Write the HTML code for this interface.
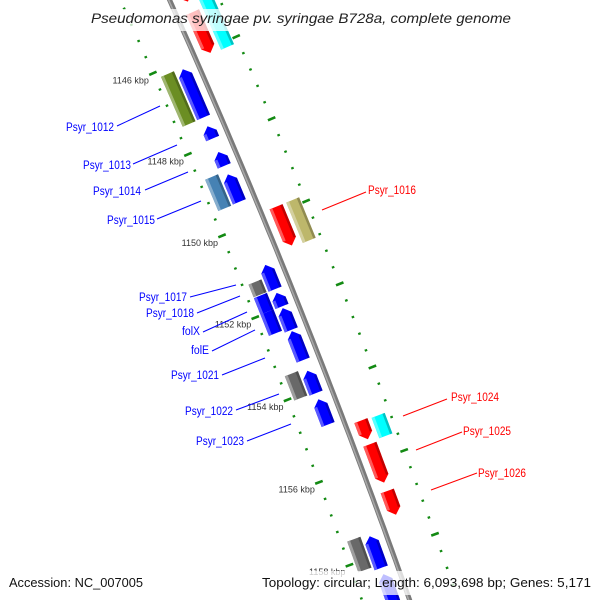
<!DOCTYPE html>
<html><head><meta charset="utf-8"><style>
html,body{margin:0;padding:0;background:#fff;width:600px;height:600px;overflow:hidden;}
svg{display:block;font-family:"Liberation Sans","DejaVu Sans",sans-serif;}
</style></head><body>
<svg id="map" width="600" height="600" viewBox="0 0 600 600" xmlns="http://www.w3.org/2000/svg">
<rect width="600" height="600" fill="#fff"/>
<g id="ticks"></g>
<g id="backbone"></g>
<g id="features"></g>
<g id="labels"></g>
<rect x="85" y="9" width="432" height="22" fill="#fff" opacity="0.75"/>
<text x="301" y="23" text-anchor="middle" font-size="14" font-style="italic" fill="#222" textLength="420" lengthAdjust="spacingAndGlyphs">Pseudomonas syringae pv. syringae B728a, complete genome</text>
<rect x="3" y="571" width="594" height="24" fill="#fff" opacity="0.75"/>
<text x="9" y="587" font-size="13" fill="#111" textLength="134" lengthAdjust="spacingAndGlyphs">Accession: NC_007005</text>
<text x="262" y="587" font-size="13" fill="#111" textLength="329" lengthAdjust="spacingAndGlyphs">Topology: circular; Length: 6,093,698 bp; Genes: 5,171</text>
</svg>
<script>
// feature data (kbp)
const featStart = [1144.5, 1145.1, 1144.9, 1146.15, 1146.19, 1147.59, 1148.22, 1148.68, 1148.77, 1149.86, 1149.86, 1150.98, 1151.25, 1151.66, 1151.58, 1151.98, 1152.03, 1152.59, 1153.48, 1153.55, 1154.24, 1155.03, 1155.06, 1155.6, 1156.72, 1157.48, 1157.54, 1158.45];
const featEnd   = [1144.84, 1146.1, 1146.13, 1147.38, 1147.37, 1147.89, 1148.56, 1149.45, 1149.44, 1150.8, 1150.84, 1151.57, 1151.56, 1151.99, 1151.98, 1152.5, 1152.56, 1153.29, 1154.07, 1154.09, 1154.85, 1155.48, 1155.55, 1156.52, 1157.29, 1158.22, 1158.3, 1159.3];
const featRing  = [3, 3, 4, 2, 1, 1, 1, 2, 1, 3, 4, 1, 2, 1, 2, 2, 1, 1, 2, 1, 1, 3, 4, 3, 3, 2, 1, 1];
const featColor = ["#ff0000","#ff0000","#00ffff","#6b8e23","#0000ff","#0000ff","#0000ff","#4682b4","#0000ff","#ff0000","#bdb76b","#0000ff","#696969","#0000ff","#0000ff","#0000ff","#0000ff","#0000ff","#696969","#0000ff","#0000ff","#ff0000","#00ffff","#ff0000","#ff0000","#696969","#0000ff","#0000ff"];
const featArrow = [1, 1, 0, 0, -1, -1, -1, 0, -1, 1, 0, -1, 0, -1, 0, 0, -1, -1, 0, -1, -1, 1, 0, 1, 1, 0, -1, -1];
// ruler
const tickMajor = [1146, 1148, 1150, 1152, 1154, 1156, 1158, 1160];
const tickLabels = ["1146 kbp","1148 kbp","1150 kbp","1152 kbp","1154 kbp","1156 kbp","1158 kbp","1160 kbp"];
const minorStep = 0.4;
// labels
const labelText = ["Psyr_1012","Psyr_1013","Psyr_1014","Psyr_1015","Psyr_1016","Psyr_1017","Psyr_1018","folX","folE","Psyr_1021","Psyr_1022","Psyr_1023","Psyr_1024","Psyr_1025","Psyr_1026"];

const NS = "http://www.w3.org/2000/svg";
const CX = -7132, CY = 3269, R = 8000;
function theta(k){ return (-23.05 + 0.318*(k-1148))*Math.PI/180; }
function pt(k, off){ const t = theta(k); return [CX+(R+off)*Math.cos(t), CY+(R+off)*Math.sin(t)]; }
const ringIn = {1:-23, 2:-39, 3:9, 4:27};
const ringOut = {1:-9, 2:-25, 3:23, 4:41};
function mk(tag, attrs, parent){ const e=document.createElementNS(NS,tag); for(const a in attrs) e.setAttribute(a, attrs[a]); parent.appendChild(e); return e; }
function P(a){ return a[0].toFixed(1)+","+a[1].toFixed(1); }

// backbone
const bb = document.getElementById("backbone");
let d = "";
for(let k=1143; k<=1161; k+=0.25){ d += (d?" L":"M") + P(pt(k,0)); }
const b1 = mk("path", {d:d, fill:"none", stroke:"#7a7a7a", "stroke-width":5}, bb);


const b2 = mk("path", {d:d, fill:"none", stroke:"#a8a8a8", "stroke-width":1.5, transform:"translate(-0.8,0.3)"}, bb);



// ticks
const tg = document.getElementById("ticks");
const rings = [-45, 46];
for(let k=1143.6; k<=1160.4; k=Math.round((k+minorStep)*10)/10){
  const major = Math.abs(k/2 - Math.round(k/2)) < 1e-6;
  rings.forEach(function(r){
    const h = major ? 4 : 1.3;
    const a = pt(k, r-h), b = pt(k, r+h);
    const ln = mk("line", {x1:a[0], y1:a[1], x2:b[0], y2:b[1], stroke:"#138a13", "stroke-width": major?2.6:2.2}, tg);
    
    
  });
}
tickMajor.forEach(function(k, i){
  const a = pt(k, -45);
  const tx = mk("text", {x:a[0]-4, y:a[1]+10, "text-anchor":"end", "font-size":"9", fill:"#333"}, tg);
  tx.textContent = tickLabels[i];
  
  
});

// features
const fg = document.getElementById("features");
function darker(c){ const n=parseInt(c.slice(1),16); const r=(n>>16)&255,g=(n>>8)&255,b=n&255; return "rgb("+Math.round(r*0.6)+","+Math.round(g*0.6)+","+Math.round(b*0.6)+")"; }
function lighter(c){ const n=parseInt(c.slice(1),16); const r=(n>>16)&255,g=(n>>8)&255,b=n&255; return "rgb("+Math.round(r+(255-r)*0.35)+","+Math.round(g+(255-g)*0.35)+","+Math.round(b+(255-b)*0.35)+")"; }
for(let i=0;i<featStart.length;i++){
  const s=featStart[i], e=featEnd[i], ri=ringIn[featRing[i]], ro=ringOut[featRing[i]], mid=(ri+ro)/2;
  const h = Math.min(0.15, (e-s)/2);
  let pts;
  if(featArrow[i]===1) pts=[pt(s,ri),pt(s,ro),pt(e-h,ro),pt(e,mid),pt(e-h,ri)];
  else if(featArrow[i]===-1) pts=[pt(s+h,ri),pt(s,mid),pt(s+h,ro),pt(e,ro),pt(e,ri)];
  else pts=[pt(s,ri),pt(s,ro),pt(e,ro),pt(e,ri)];
  const g = mk("g", {}, fg);
  
  
  mk("polygon", {points:pts.map(P).join(" "), fill:featColor[i]}, g);
  const a0 = featArrow[i]===-1?h:0, a1 = featArrow[i]===1?h:0;
  const ls=[pt(s+a0,ri),pt(s+a0,ri+3),pt(e-a1,ri+3),pt(e-a1,ri)];
  mk("polygon", {points:ls.map(P).join(" "), fill:lighter(featColor[i])}, g);
  const ds=[pt(s+a0,ro-2.5),pt(s+a0,ro),pt(e-a1,ro),pt(e-a1,ro-2.5)];
  mk("polygon", {points:ds.map(P).join(" "), fill:darker(featColor[i]), opacity:0.6}, g);
}

// labels
const lg = document.getElementById("labels");
const labelX = [114,131,141,155,368,187,194,200,209,219,233,244,451,463,478];
const labelY = [131,169,195,224,194,301,317,335,354,379,415,445,401,435,477];
const labelLine = [[117,126,160,106],[133,164,177,145],[145,190,188,172],[157,219,201,201],[322,210,366,192],[190,297,236,285],[197,313,240,296],[203,332,247,312],[212,351,255,330],[222,375,265,358],[236,410,279,394],[247,441,291,424],[403,416,447,399],[416,450,462,432],[431,490,477,473]];
for(let i=0;i<labelText.length;i++){
  const red = i===4 || i>=12;
  const col = red ? "#ff0000" : "#0000ff";
  const L = labelLine[i];
  const ln = mk("line", {x1:L[0], y1:L[1], x2:L[2], y2:L[3], stroke:col, "stroke-width":1}, lg);
  
  
  const w = labelText[i].length > 4 ? 48 : 18;
  const t = mk("text", {x:labelX[i], y:labelY[i], "font-size":"11.5", fill:col, "text-anchor": red?"start":"end", textLength:w, lengthAdjust:"spacingAndGlyphs"}, lg);
  t.textContent = labelText[i];
  
  
}
</script>
</body></html>
